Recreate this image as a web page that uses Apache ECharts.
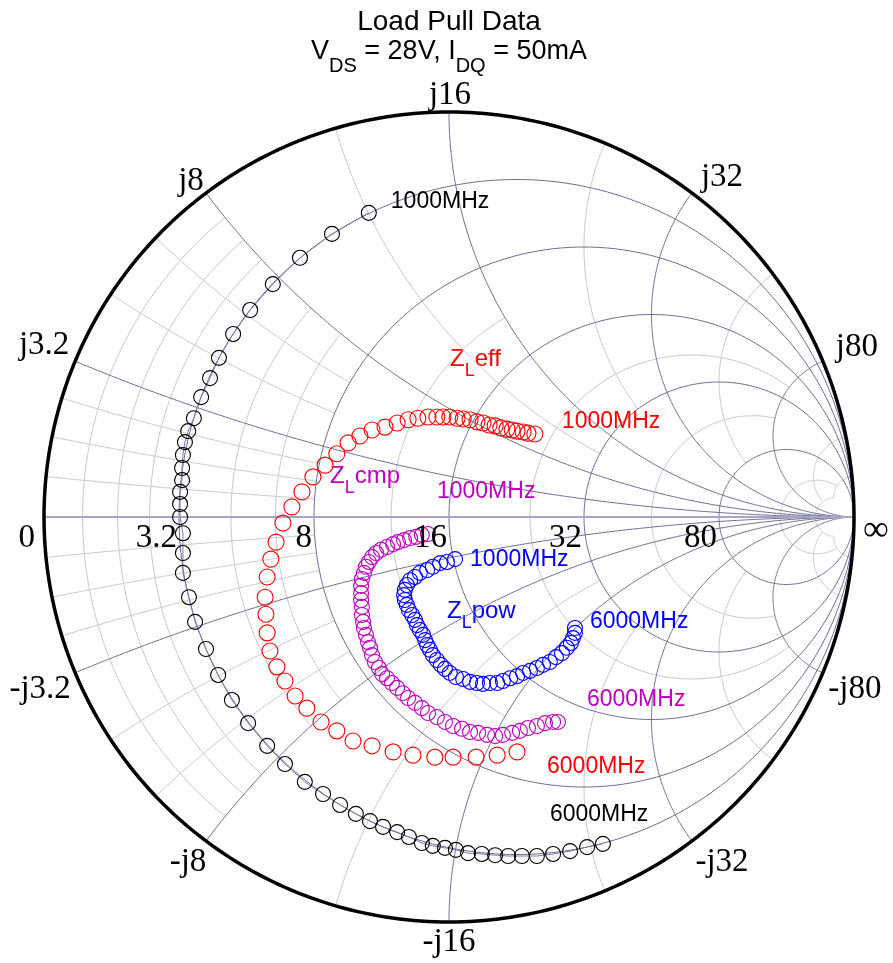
<!DOCTYPE html>
<html><head><meta charset="utf-8">
<script src="https://cdn.jsdelivr.net/npm/echarts@6/dist/echarts.min.js"></script>
<style>html,body{margin:0;padding:0;background:#fff}#c{width:893px;height:963px}</style>
</head><body><div id="c"></div>
<script>
// ---- Smith chart data (reflection coefficient Γ = re, im), Z0 = 16 Ω ----
const startFreqLabel = '1000MHz';
const endFreqLabel = '6000MHz';

const blackTrace = [[-0.198,0.751],[-0.289,0.699],[-0.368,0.640],[-0.435,0.575],[-0.491,0.511],[-0.533,0.452],[-0.568,0.393],[-0.590,0.343],[-0.612,0.296],[-0.630,0.244],[-0.644,0.212],[-0.652,0.185],[-0.657,0.153],[-0.659,0.121],[-0.659,0.091],[-0.664,0.062],[-0.664,0.032],[-0.664,0.000],[-0.657,-0.040],[-0.657,-0.089],[-0.657,-0.138],[-0.642,-0.198],[-0.627,-0.259],[-0.600,-0.326],[-0.570,-0.390],[-0.536,-0.452],[-0.496,-0.509],[-0.449,-0.565],[-0.405,-0.610],[-0.356,-0.654],[-0.311,-0.684],[-0.269,-0.711],[-0.230,-0.733],[-0.195,-0.751],[-0.163,-0.765],[-0.128,-0.778],[-0.099,-0.790],[-0.067,-0.805],[-0.040,-0.812],[-0.010,-0.817],[0.017,-0.822],[0.047,-0.830],[0.081,-0.832],[0.114,-0.835],[0.146,-0.837],[0.180,-0.837],[0.217,-0.837],[0.257,-0.832],[0.299,-0.825],[0.341,-0.815],[0.380,-0.807]];

const zlEff = [[0.212,0.205],[0.195,0.207],[0.183,0.210],[0.168,0.212],[0.156,0.215],[0.143,0.217],[0.128,0.220],[0.114,0.225],[0.099,0.227],[0.084,0.232],[0.069,0.235],[0.052,0.240],[0.035,0.242],[0.020,0.244],[0.002,0.247],[-0.015,0.247],[-0.030,0.247],[-0.052,0.247],[-0.077,0.244],[-0.101,0.240],[-0.128,0.232],[-0.158,0.222],[-0.190,0.215],[-0.220,0.200],[-0.249,0.183],[-0.277,0.156],[-0.306,0.128],[-0.336,0.099],[-0.363,0.062],[-0.388,0.025],[-0.410,-0.015],[-0.427,-0.062],[-0.440,-0.104],[-0.449,-0.148],[-0.454,-0.198],[-0.452,-0.240],[-0.449,-0.286],[-0.442,-0.331],[-0.425,-0.370],[-0.405,-0.405],[-0.380,-0.442],[-0.351,-0.472],[-0.316,-0.506],[-0.277,-0.528],[-0.237,-0.553],[-0.190,-0.565],[-0.138,-0.580],[-0.089,-0.588],[-0.035,-0.593],[0.010,-0.593],[0.067,-0.593],[0.119,-0.588],[0.168,-0.580]];

const zlCmp = [[-0.052,-0.042],[-0.067,-0.044],[-0.081,-0.049],[-0.096,-0.052],[-0.111,-0.057],[-0.126,-0.062],[-0.138,-0.067],[-0.153,-0.074],[-0.168,-0.081],[-0.180,-0.089],[-0.190,-0.099],[-0.198,-0.111],[-0.205,-0.123],[-0.210,-0.138],[-0.215,-0.153],[-0.217,-0.170],[-0.217,-0.188],[-0.217,-0.205],[-0.215,-0.222],[-0.215,-0.242],[-0.212,-0.259],[-0.210,-0.274],[-0.205,-0.291],[-0.200,-0.309],[-0.195,-0.323],[-0.190,-0.341],[-0.183,-0.358],[-0.173,-0.373],[-0.165,-0.388],[-0.153,-0.398],[-0.141,-0.410],[-0.128,-0.422],[-0.114,-0.435],[-0.101,-0.447],[-0.084,-0.459],[-0.067,-0.472],[-0.052,-0.484],[-0.030,-0.494],[-0.010,-0.506],[0.010,-0.516],[0.032,-0.523],[0.052,-0.531],[0.072,-0.533],[0.094,-0.538],[0.114,-0.541],[0.133,-0.538],[0.156,-0.533],[0.175,-0.528],[0.195,-0.521],[0.217,-0.516],[0.237,-0.509],[0.257,-0.506],[0.269,-0.506]];

const zlPow = [[0.015,-0.104],[-0.005,-0.111],[-0.022,-0.114],[-0.040,-0.123],[-0.054,-0.131],[-0.072,-0.138],[-0.084,-0.148],[-0.096,-0.156],[-0.104,-0.168],[-0.109,-0.180],[-0.111,-0.193],[-0.109,-0.205],[-0.104,-0.217],[-0.099,-0.230],[-0.091,-0.242],[-0.084,-0.254],[-0.079,-0.267],[-0.072,-0.279],[-0.064,-0.291],[-0.059,-0.304],[-0.054,-0.316],[-0.047,-0.328],[-0.040,-0.341],[-0.030,-0.353],[-0.020,-0.365],[-0.010,-0.375],[0.002,-0.385],[0.017,-0.395],[0.035,-0.400],[0.052,-0.407],[0.069,-0.410],[0.084,-0.412],[0.101,-0.410],[0.119,-0.410],[0.133,-0.405],[0.151,-0.398],[0.168,-0.393],[0.183,-0.385],[0.200,-0.380],[0.217,-0.373],[0.232,-0.365],[0.249,-0.358],[0.264,-0.346],[0.279,-0.336],[0.291,-0.323],[0.301,-0.311],[0.306,-0.299],[0.311,-0.286],[0.311,-0.274]];

// ---- Grid values (normalized to Z0) ----
const majorR = [0.2, 0.5, 1, 2, 5];
const majorX = [0.2, 0.5, 1, 2, 5];
// [value, extent of the other coordinate]
const minorR = [[0.05,0.5],[0.1,0.5],[0.15,0.5],[0.3,0.5],[0.4,0.5],[0.75,1],[1.5,5],[3,5],[10,20],[20,20]];
const minorX = [[0.05,0.5],[0.1,0.5],[0.15,0.5],[0.3,0.5],[0.4,0.5],[0.75,2],[1.5,2],[3,5],[10,20],[20,20]];

// ---- tick labels ----
const realTickValues = [0, 0.2, 0.5, 1, 2, 5, Infinity];
const realTickLabels = ['0', '3.2', '8', '16', '32', '80', '\u221E'];
const reactTickValues = [0.2, 0.5, 1, 2, 5, -0.2, -0.5, -1, -2, -5];
const reactTickLabels = ['j3.2', 'j8', 'j16', 'j32', 'j80', '-j3.2', '-j8', '-j16', '-j32', '-j80'];

// ---- layout / style ----
const CX = 449, CY = 517, R = 405, AX = 1.05;
const reactOffsets = [[-31,-16],[-15,-12],[1,-17],[30,-16],[34,-14],[-35,17],[-18,21],[0,20],[30,21],[32,17]];
const SERIF = '"Liberation Serif","Times New Roman",serif';
const SANS = '"Liberation Sans",Arial,sans-serif';
const noBorder = {textBorderWidth: 0, textBorderColor: 'transparent', textShadowBlur: 0};

function rCircle(r, xmax, n) {
  n = n || 200;
  const c = r / (1 + r), rho = 1 / (1 + r);
  const a0 = isFinite(xmax) ? 2 * Math.atan((1 + r) / xmax) : 0;
  const pts = [];
  for (let i = 0; i <= n; i++) {
    const a = a0 + (2 * Math.PI - 2 * a0) * i / n;
    pts.push([c + rho * Math.cos(a), rho * Math.sin(a)]);
  }
  return pts;
}
function xArc(x, rmax, n) {
  n = n || 160;
  const ax = Math.abs(x), s = Math.sign(x);
  const g0 = isFinite(rmax) ? 2 * Math.atan(ax / (1 + rmax)) : 0;
  const g1 = 2 * Math.atan(ax);
  const pts = [];
  for (let i = 0; i <= n; i++) {
    const g = g0 + (g1 - g0) * i / n;
    pts.push([1 - Math.sin(g) / ax, s * (1 - Math.cos(g)) / ax]);
  }
  return pts;
}
const minorLines = [], majorLines = [];
minorR.forEach(([r, xm]) => minorLines.push({coords: rCircle(r, xm)}));
minorX.forEach(([x, rm]) => { minorLines.push({coords: xArc(x, rm)}); minorLines.push({coords: xArc(-x, rm)}); });
majorR.forEach(r => majorLines.push({coords: rCircle(r, Infinity, 300)}));
majorX.forEach(x => { majorLines.push({coords: xArc(x, Infinity, 300)}); majorLines.push({coords: xArc(-x, Infinity, 300)}); });
const boundary = [{coords: rCircle(0, Infinity, 360)}];
const realAxis = [{coords: [[-1, 0], [1, 0]]}];

function gammaR(r) { return isFinite(r) ? (r - 1) / (r + 1) : 1; }
function gammaX(x) { const d = 1 + x * x; return [(x * x - 1) / d, 2 * x / d]; }

const realTickData = realTickValues.map((v, i) => {
  const inf = !isFinite(v);
  return {
    name: realTickLabels[i], value: [gammaR(v), 0],
    label: Object.assign({color: '#000'}, noBorder, inf
      ? {align: 'left', verticalAlign: 'middle', offset: [9, 14], fontSize: 36}
      : {align: 'right', verticalAlign: 'middle', offset: [i === 0 ? -9 : -2, 21]})
  };
});
const reactTickData = reactTickValues.map((v, i) => ({
  name: reactTickLabels[i], value: gammaX(v),
  label: Object.assign({color: '#000', align: 'center', verticalAlign: 'middle', offset: reactOffsets[i]}, noBorder)
}));

function traceData(pts, startOff, endOff, color) {
  return pts.map((p, i) => {
    const item = {value: p};
    if (i === 0 || i === pts.length - 1) {
      item.label = Object.assign({show: true, formatter: i === 0 ? startFreqLabel : endFreqLabel,
        position: ['50%', '50%'], align: 'left', verticalAlign: 'middle',
        offset: i === 0 ? startOff : endOff, color: color, fontSize: 23, fontFamily: SANS}, noBorder);
    }
    return item;
  });
}
function markerStyle(color) {
  return {color: 'rgba(0,0,0,0)', borderColor: color, borderWidth: 1.1, opacity: 1};
}

// ---- text helpers ----
const mctx = document.createElement('canvas').getContext('2d');
function subText(parts, x, y, color, main, sub, subDy, centered) {
  const ws = parts.map(p => { mctx.font = (p[1] ? sub : main) + 'px ' + SANS; return mctx.measureText(p[0]).width; });
  const total = ws.reduce((a, b) => a + b, 0);
  let cx = centered ? x - total / 2 : x;
  const els = [];
  parts.forEach((p, i) => {
    els.push({type: 'text', x: cx, y: y + (p[1] ? subDy : 0), silent: true,
      style: {text: p[0], font: (p[1] ? sub : main) + 'px ' + SANS, fill: color,
        textAlign: 'left', align: 'left', textVerticalAlign: 'middle', verticalAlign: 'middle'}});
    cx += ws[i];
  });
  return els;
}
const graphics = [].concat(
  subText([['Load Pull Data', 0]], CX, 22, '#000', 28, 20, 14, true),
  subText([['V', 0], ['DS', 1], [' = 28V, I', 0], ['DQ', 1], [' = 50mA', 0]], CX, 52, '#000', 27, 20, 14, true),
  subText([['Z', 0], ['L', 1], ['eff', 0]], 450, 359, '#ff0000', 24, 18, 12, false),
  subText([['Z', 0], ['L', 1], ['cmp', 0]], 330, 476, '#c000c0', 24, 18, 12, false),
  subText([['Z', 0], ['L', 1], ['pow', 0]], 447, 611, '#0000ff', 24, 18, 12, false)
);

const chart = echarts.init(document.getElementById('c'), null, {renderer: 'canvas'});
chart.setOption({
  animation: false,
  backgroundColor: '#ffffff',
  grid: {left: CX - R * AX, top: CY - R * AX, width: 2 * R * AX, height: 2 * R * AX},
  xAxis: {type: 'value', min: -AX, max: AX, show: false},
  yAxis: {type: 'value', min: -AX, max: AX, show: false},
  graphic: graphics,
  series: [
    {type: 'lines', coordinateSystem: 'cartesian2d', polyline: true, silent: true, z: 1,
     lineStyle: {color: '#c8c8c8', width: 1, opacity: 1}, data: minorLines},
    {type: 'lines', coordinateSystem: 'cartesian2d', polyline: true, silent: true, z: 2,
     lineStyle: {color: '#6e6e98', width: 1, opacity: 1}, data: majorLines},
    {type: 'lines', coordinateSystem: 'cartesian2d', polyline: true, silent: true, z: 2,
     lineStyle: {color: '#a6a6c2', width: 2, opacity: 1}, data: realAxis},
    {type: 'lines', coordinateSystem: 'cartesian2d', polyline: true, silent: true, z: 3,
     lineStyle: {color: '#000000', width: 3.5, opacity: 1}, data: boundary},
    {type: 'line', name: 'black', z: 5, silent: true, symbol: 'circle', symbolSize: 15, showAllSymbol: true,
     lineStyle: {color: '#7c7ca6', width: 1}, itemStyle: markerStyle('#000000'),
     data: traceData(blackTrace, [22, -11.5], [-53, -29], '#000000')},
    {type: 'scatter', name: 'ZL eff', z: 5, silent: true, symbol: 'circle', symbolSize: 16,
     itemStyle: markerStyle('#ff0000'), data: traceData(zlEff, [27, -12.5], [30, 14.5], '#ff0000')},
    {type: 'scatter', name: 'ZL cmp', z: 5, silent: true, symbol: 'circle', symbolSize: 15,
     itemStyle: markerStyle('#c000c0'), data: traceData(zlCmp, [9, -42.5], [29, -22], '#c000c0')},
    {type: 'scatter', name: 'ZL pow', z: 5, silent: true, symbol: 'circle', symbolSize: 15,
     itemStyle: markerStyle('#0000ff'), data: traceData(zlPow, [15, 0.5], [15, -6.5], '#0000ff')},
    {type: 'scatter', z: 6, silent: true, symbolSize: 1, itemStyle: {color: 'rgba(0,0,0,0)', opacity: 1},
     label: Object.assign({show: true, formatter: '{b}', position: ['50%', '50%'], color: '#000', fontFamily: SERIF, fontSize: 33}, noBorder),
     data: realTickData.concat(reactTickData)}
  ]
});
</script>
</body></html>
